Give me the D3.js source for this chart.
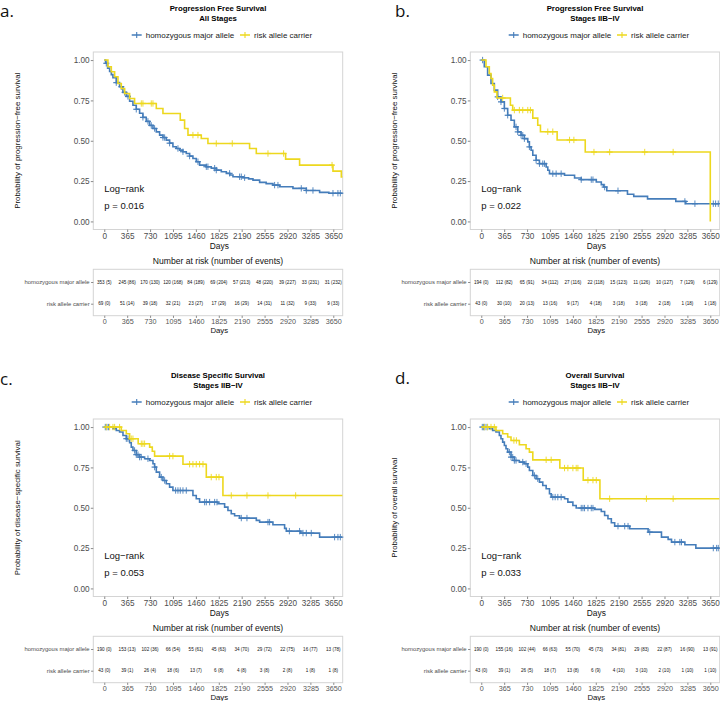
<!DOCTYPE html>
<html><head><meta charset="utf-8">
<script src="https://cdn.jsdelivr.net/npm/d3@7"></script>
<style>body{margin:0;background:#fff}svg{display:block}</style>
</head><body>
<svg id="chart" width="720" height="701"></svg>
<script>
// ---------- shared labels ----------
const dayTicks = [0,365,730,1095,1460,1825,2190,2555,2920,3285,3650];
const survTicks = [0,0.25,0.5,0.75,1];
const groupNames = ["homozygous major allele","risk allele carrier"];
const panelLetters = ["a.","b.","c.","d."];
const panelTitles = [
  ["Progression Free Survival","All Stages"],
  ["Progression Free Survival","Stages IIB\u2212IV"],
  ["Disease Specific Survival","Stages IIB\u2212IV"],
  ["Overall Survival","Stages IIB\u2212IV"]
];
const yAxisTitles = [
  "Probability of progression\u2212free survival",
  "Probability of progression\u2212free survival",
  "Probability of disease\u2212specific survival",
  "Probability of overall survival"
];
const testLabel = "Log\u2212rank";
const pValues = ["p = 0.016","p = 0.022","p = 0.053","p = 0.033"];
const curveEnds = [[3795,3795],[3795,3650],[3790,3795],[3790,3795]];

// ---------- panel a: PFS all stages ----------
const aHomTimes = [20,53,85,112,138,191,244,297,350,404,457,510,563,616,669,722,776,829,882,935,988,1041,1094,1148,1201,1254,1307,1360,1413,1466,1519,1626,1705,1785,1865,1945,2000,2051,2210,2300,2370,2476,2580,2688,2795,3007,3220,3432,3580];
const aHomSurv  = [0.98,0.95,0.93,0.91,0.89,0.86,0.835,0.80,0.775,0.745,0.72,0.695,0.67,0.645,0.62,0.595,0.576,0.555,0.535,0.52,0.504,0.485,0.463,0.452,0.442,0.432,0.421,0.405,0.39,0.37,0.349,0.339,0.33,0.318,0.308,0.298,0.288,0.277,0.271,0.264,0.256,0.242,0.234,0.225,0.215,0.205,0.192,0.18,0.175];
const aHomCensor = [32,191,271,324,377,510,616,696,749,802,935,962,1041,1174,1254,1360,1493,1626,1652,1759,1785,1998,2157,2184,2237,2715,2768,3140,3220,3326,3645,3724,3762];
const aRiskTimes = [58,112,165,218,271,324,404,483,829,935,1211,1280,1334,1546,1652,2316,2423,2890,3113,3645,3778];
const aRiskSurv  = [0.959,0.928,0.897,0.855,0.824,0.793,0.762,0.731,0.70,0.669,0.628,0.576,0.535,0.514,0.483,0.452,0.421,0.386,0.349,0.312,0.276];
const aRiskCensor = [590,616,749,776,1413,1493,1785,2040,2609,2858,3630];
const aTableHom  = ["353 (5)","245 (86)","170 (130)","120 (168)","84 (189)","69 (204)","57 (213)","48 (220)","39 (227)","33 (231)","31 (232)"];
const aTableRisk = ["69 (0)","51 (14)","39 (18)","32 (21)","23 (27)","17 (29)","16 (29)","14 (31)","11 (32)","9 (33)","9 (33)"];

// ---------- panel b: PFS stages IIB-IV ----------
const bHomTimes = [48,101,155,208,261,314,368,421,474,527,581,634,687,741,767,794,821,874,927,1034,1060,1087,1327,1487,1593,1833,1913,1950,2000,2330,2430,2650,3100,3260];
const bHomSurv  = [0.959,0.907,0.855,0.814,0.772,0.741,0.70,0.658,0.627,0.586,0.555,0.534,0.513,0.493,0.462,0.441,0.41,0.379,0.358,0.337,0.317,0.296,0.286,0.269,0.259,0.244,0.228,0.213,0.19,0.168,0.155,0.14,0.124,0.11];
const bHomCensor = [21,261,314,368,421,554,581,634,661,687,767,874,927,980,1007,1140,1193,1273,1593,1753,1780,1966,2179,3245,3405,3698,3735,3777];
const bRiskTimes = [75,128,155,181,208,250,464,501,821,900,943,1209,1657,3650];
const bRiskSurv  = [0.959,0.917,0.886,0.845,0.803,0.765,0.72,0.69,0.64,0.596,0.556,0.505,0.43,0];
const bRiskCensor = [341,527,607,661,741,783,1060,1140,1407,1476,1796,2046,2605,3058];
const bTableHom  = ["194 (0)","112 (82)","65 (91)","34 (112)","27 (116)","22 (118)","15 (123)","11 (126)","10 (127)","7 (129)","6 (129)"];
const bTableRisk = ["43 (0)","30 (10)","20 (13)","13 (16)","9 (17)","4 (18)","3 (18)","3 (18)","2 (18)","1 (18)","1 (18)"];

// ---------- panel c: DSS stages IIB-IV ----------
const cHomTimes = [138,191,244,298,351,404,430,457,510,563,643,723,776,802,829,882,935,988,1041,1094,1413,1466,1519,1812,1918,1971,2024,2077,2157,2423,2476,2688,2874,2901,3130,3432];
const cHomSurv  = [0.99,0.979,0.969,0.948,0.928,0.903,0.876,0.855,0.829,0.814,0.804,0.793,0.773,0.752,0.721,0.69,0.669,0.649,0.628,0.607,0.576,0.556,0.535,0.525,0.504,0.483,0.463,0.45,0.436,0.422,0.411,0.395,0.372,0.355,0.343,0.318];
const cHomCensor = [16,43,69,351,377,483,510,537,563,590,696,802,909,962,1137,1174,1211,1254,1307,1599,1626,1679,1759,1796,2184,2274,2609,2635,2950,3113,3167,3220,3299,3671,3724,3762];
const cRiskTimes = [271,351,404,540,723,765,802,1254,1626,1891];
const cRiskSurv  = [0.979,0.959,0.928,0.897,0.876,0.85,0.82,0.77,0.69,0.576];
const cRiskCensor = [32,85,138,165,244,430,457,590,616,643,1041,1094,1360,1413,1466,1519,1573,1705,1785,1828,2024,2274,2609,3050];
const cTableHom  = ["190 (0)","153 (13)","102 (36)","66 (54)","55 (61)","45 (63)","34 (70)","29 (72)","22 (75)","16 (77)","13 (78)"];
const cTableRisk = ["43 (0)","39 (1)","26 (4)","18 (6)","13 (7)","6 (8)","4 (8)","3 (8)","2 (8)","1 (8)","1 (8)"];

// ---------- panel d: OS stages IIB-IV ----------
const dHomTimes = [128,181,234,288,314,341,368,394,421,474,527,607,687,741,767,821,874,927,980,1034,1087,1114,1327,1380,1460,1513,1806,1913,1966,2019,2073,2126,2366,2659,2872,2978,3032,3245,3420];
const dHomSurv  = [0.99,0.979,0.969,0.948,0.928,0.907,0.886,0.866,0.845,0.814,0.793,0.783,0.773,0.752,0.731,0.70,0.68,0.659,0.638,0.618,0.587,0.566,0.556,0.535,0.514,0.498,0.49,0.477,0.452,0.432,0.407,0.386,0.37,0.349,0.318,0.304,0.287,0.271,0.25];
const dHomCensor = [16,37,59,91,448,474,501,527,554,661,714,847,900,1140,1177,1220,1273,1593,1620,1646,1700,1753,1780,2179,2286,2339,2685,3085,3165,3191,3698,3751,3777];
const dRiskTimes = [234,341,421,474,607,714,767,821,1252,1625,1891];
const dRiskSurv  = [0.979,0.959,0.938,0.917,0.89,0.866,0.845,0.797,0.746,0.671,0.556];
const dRiskCensor = [48,101,155,208,520,560,1034,1114,1327,1380,1460,1513,1540,1700,1780,1833,2046,2632,3058];
const dTableHom  = ["190 (0)","155 (16)","102 (44)","66 (63)","55 (70)","45 (73)","34 (81)","29 (83)","22 (87)","16 (90)","13 (91)"];
const dTableRisk = ["43 (0)","39 (1)","26 (5)","18 (7)","13 (8)","6 (9)","4 (10)","3 (10)","2 (10)","1 (10)","1 (10)"];

const groupColors = ["#457DBA","#EDD81E"];

const panels = [
  {hom:[aHomTimes,aHomSurv,aHomCensor], risk:[aRiskTimes,aRiskSurv,aRiskCensor], table:[aTableHom,aTableRisk]},
  {hom:[bHomTimes,bHomSurv,bHomCensor], risk:[bRiskTimes,bRiskSurv,bRiskCensor], table:[bTableHom,bTableRisk]},
  {hom:[cHomTimes,cHomSurv,cHomCensor], risk:[cRiskTimes,cRiskSurv,cRiskCensor], table:[cTableHom,cTableRisk]},
  {hom:[dHomTimes,dHomSurv,dHomCensor], risk:[dRiskTimes,dRiskSurv,dRiskCensor], table:[dTableHom,dTableRisk]}
];

// ---------- layout ----------
const FONT = "'Liberation Sans', Arial, Helvetica, sans-serif";
const colX = [0,377,0,377], rowY = [0,0,367,367];
const letterPos = [[0,16.5],[395,16.5],[0,385],[395,384]];
const svg = d3.select("#chart");

const x = d3.scaleLinear().domain([-175,3800]).range([93.3,342.7]);
const y = d3.scaleLinear().domain([-0.05,1.05]).range([229.5,52]);
const riskTop = 269.3, riskBottom = 315.7;
const ry = d3.scalePoint().domain(groupNames).range([282,303.7]);
const dayFmt = d3.format("d");

function stepPoints(times, surv, end){
  const pts = [[0,1]];
  times.forEach((t,k)=>pts.push([t,surv[k]]));
  pts.push([end, surv[surv.length-1]]);
  return pts;
}
function survAt(times, surv, t){
  let s = 1;
  times.forEach((tt,k)=>{ if(tt<=t) s = surv[k]; });
  return s;
}

panelLetters.forEach((L,i)=>{
  svg.append("text").attr("x",letterPos[i][0]).attr("y",letterPos[i][1])
    .attr("font-family","'Open Sans', 'Noto Sans', sans-serif").attr("font-size",17)
    .attr("fill","#111").text(L);
});

panels.forEach((p,i)=>{
  const g = svg.append("g").attr("transform",`translate(${colX[i]},${rowY[i]})`);
  const cx = (x.range()[0]+x.range()[1])/2;

  // titles
  g.append("text").attr("x",cx).attr("y",10.8).attr("text-anchor","middle")
    .attr("font-family",FONT).attr("font-weight","bold").attr("font-size",7.8).text(panelTitles[i][0]);
  g.append("text").attr("x",cx).attr("y",20.8).attr("text-anchor","middle")
    .attr("font-family",FONT).attr("font-weight","bold").attr("font-size",7.8).text(panelTitles[i][1]);

  // legend
  const keyX = [136.7,245], txtX = [145.7,254];
  groupNames.forEach((nm,k)=>{
    g.append("line").attr("x1",keyX[k]-5).attr("x2",keyX[k]+5).attr("y1",35).attr("y2",35)
      .attr("stroke",groupColors[k]).attr("stroke-width",1.5);
    g.append("line").attr("x1",keyX[k]).attr("x2",keyX[k]).attr("y1",32).attr("y2",38)
      .attr("stroke",groupColors[k]).attr("stroke-width",1.1);
    g.append("text").attr("x",txtX[k]).attr("y",37.6).attr("font-family",FONT)
      .attr("font-size",8).attr("fill","#222").text(nm);
  });

  // plot border
  g.append("rect").attr("x",x.range()[0]).attr("y",y.range()[1])
    .attr("width",x.range()[1]-x.range()[0]).attr("height",y.range()[0]-y.range()[1])
    .attr("fill","none").attr("stroke","#d4d4d4").attr("stroke-width",1);

  // axes
  const ya = g.append("g").attr("transform",`translate(${x.range()[0]},0)`)
    .call(d3.axisLeft(y).tickValues(survTicks).tickFormat(d3.format(".2f")).tickSize(2.5).tickPadding(1.2));
  ya.select(".domain").remove();
  ya.selectAll("line").attr("stroke","#8a8a8a");
  ya.selectAll("text").attr("font-family",FONT).attr("font-size",8.2).attr("fill","#4D4D4D");

  const xa = g.append("g").attr("transform",`translate(0,${y.range()[0]})`)
    .call(d3.axisBottom(x).tickValues(dayTicks).tickFormat(dayFmt).tickSize(2.5).tickPadding(1.1));
  xa.select(".domain").remove();
  xa.selectAll("line").attr("stroke","#8a8a8a");
  xa.selectAll("text").attr("font-family",FONT).attr("font-size",8.2).attr("fill","#4D4D4D");

  g.append("text").attr("x",x(1825)+0.5).attr("y",248.8).attr("text-anchor","middle")
    .attr("font-family",FONT).attr("font-size",8.4).attr("fill","#111").text("Days");

  // y axis title
  g.append("text").attr("transform",`translate(19.6,${(y.range()[0]+y.range()[1])/2}) rotate(-90)`)
    .attr("text-anchor","middle").attr("font-family",FONT).attr("font-size",7.9).attr("fill","#111")
    .text(yAxisTitles[i]);

  // curves
  const line = d3.line().x(d=>x(d[0])).y(d=>y(d[1])).curve(d3.curveStepAfter);
  [p.hom,p.risk].forEach((c,k)=>{
    const [times,surv,cens] = c;
    g.append("path").datum(stepPoints(times,surv,curveEnds[i][k]))
      .attr("d",line).attr("fill","none").attr("stroke",groupColors[k]).attr("stroke-width",1.6);
    cens.forEach(t=>{
      const sx = x(t), sy = y(survAt(times,surv,t));
      g.append("line").attr("x1",sx).attr("x2",sx).attr("y1",sy-3.2).attr("y2",sy+3.2)
        .attr("stroke",groupColors[k]).attr("stroke-width",0.9);
      g.append("line").attr("x1",sx-3).attr("x2",sx+3).attr("y1",sy).attr("y2",sy)
        .attr("stroke",groupColors[k]).attr("stroke-width",1.2);
    });
  });

  // log-rank annotation
  g.append("text").attr("x",x(0)).attr("y",y(0.2)).attr("dy","0.35em")
    .attr("font-family",FONT).attr("font-size",9.5).attr("fill","#111").text(testLabel);
  g.append("text").attr("x",x(0)).attr("y",y(0.1)).attr("dy","0.35em")
    .attr("font-family",FONT).attr("font-size",9.5).attr("fill","#111").text(pValues[i]);

  // risk table
  g.append("text").attr("x",cx).attr("y",264.2).attr("text-anchor","middle")
    .attr("font-family",FONT).attr("font-size",8.6).attr("fill","#111").text("Number at risk (number of events)");
  g.append("rect").attr("x",x.range()[0]).attr("y",riskTop)
    .attr("width",x.range()[1]-x.range()[0]).attr("height",riskBottom-riskTop)
    .attr("fill","none").attr("stroke","#d4d4d4").attr("stroke-width",1);
  const rya = g.append("g").attr("transform",`translate(${x.range()[0]},0)`)
    .call(d3.axisLeft(ry).tickSize(2.2).tickPadding(1.5));
  rya.select(".domain").remove();
  rya.selectAll("line").attr("stroke","#8a8a8a");
  rya.selectAll("text").attr("font-family",FONT).attr("font-size",5.9).attr("fill","#4D4D4D");
  const rxa = g.append("g").attr("transform",`translate(0,${riskBottom})`)
    .call(d3.axisBottom(x).tickValues(dayTicks).tickFormat(dayFmt).tickSize(2.2).tickPadding(1.3));
  rxa.select(".domain").remove();
  rxa.selectAll("line").attr("stroke","#8a8a8a");
  rxa.selectAll("text").attr("font-family",FONT).attr("font-size",7.2).attr("fill","#555");
  g.append("text").attr("x",x(1825)+0.5).attr("y",333).attr("text-anchor","middle")
    .attr("font-family",FONT).attr("font-size",7.8).attr("fill","#111").text("Days");

  p.table.forEach((row,k)=>{
    row.forEach((lab,j)=>{
      g.append("text").attr("x",x(dayTicks[j])).attr("y",ry(groupNames[k])).attr("dy","0.35em")
        .attr("text-anchor","middle").attr("font-family",FONT).attr("font-size",4.6)
        .attr("fill","#111").text(lab);
    });
  });
});
</script>
</body></html>
